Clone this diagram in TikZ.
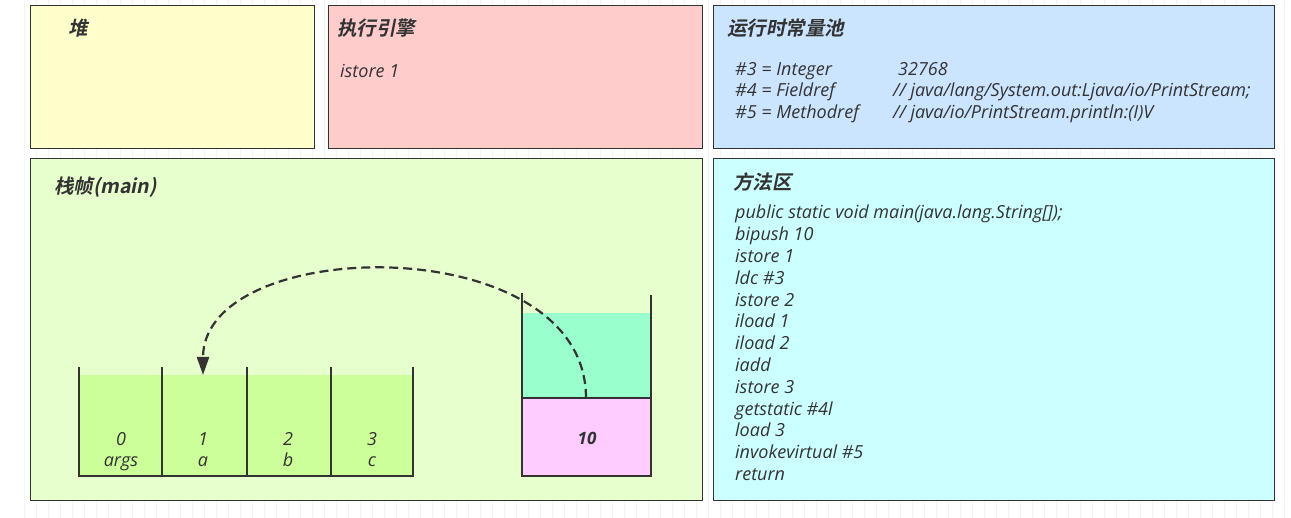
\documentclass[tikz,border=0pt]{standalone}
\usepackage{fontspec}
\setmainfont{Open Sans}
\newfontfamily\cjkbf{Noto Sans CJK SC Bold}[FakeSlant=0.2]
\usetikzlibrary{arrows.meta}
\definecolor{ink}{HTML}{333333}
\definecolor{heapcol}{HTML}{FFFFCC}
\definecolor{enginecol}{HTML}{FFCCCC}
\definecolor{poolcol}{HTML}{CCE5FF}
\definecolor{framecol}{HTML}{E6FFCC}
\definecolor{methodcol}{HTML}{CCFFFF}
\definecolor{slotcol}{HTML}{CCFF99}
\definecolor{freecol}{HTML}{99FFCC}
\definecolor{valcol}{HTML}{FFCCFF}
\begin{document}
\begin{tikzpicture}[x=1pt,y=-1pt,every node/.style={font=\fontsize{18}{21.8}\selectfont\itshape,text=ink,inner sep=0pt}]
  \tikzstyle{area}=[draw=ink,line width=1.1pt,anchor=north west]
  \tikzstyle{areatitle}=[font=\fontsize{19.5}{22}\selectfont\cjkbf,anchor=west]
  \tikzstyle{wall}=[draw=ink,line width=1.6pt]
  \useasboundingbox (0,0) rectangle (1291,518);
  \draw[gray!9,line width=0.6pt] (18,0) grid[step=12] (1291,518);
  \node[area,fill=heapcol,minimum width=284pt,minimum height=143pt] (heap) at (30,5) {};
  \node[area,fill=enginecol,minimum width=374pt,minimum height=143pt] (engine) at (328,5) {};
  \node[area,fill=poolcol,minimum width=561pt,minimum height=143pt] (pool) at (713,5) {};
  \node[area,fill=framecol,minimum width=672pt,minimum height=342pt] (frame) at (30,158) {};
  \node[area,fill=methodcol,minimum width=561pt,minimum height=342pt] (method) at (713,158) {};
  \node[areatitle] (heaptitle) at (68,28) {堆};
  \node[areatitle] (enginetitle) at (337,28) {执行引擎};
  \node[areatitle] (pooltitle) at (727,28) {运行时常量池};
  \node[areatitle] (frametitle) at (54,187) {栈帧(main)};
  \node[areatitle] (methodtitle) at (733,182) {方法区};
  \node[anchor=base west] (current) at (340,78) {istore 1};
  \node[anchor=base west] (c3) at (735,76) {\#3 = Integer};
  \node[anchor=base west] (c4) at (735,97) {\#4 = Fieldref};
  \node[anchor=base west] (c5) at (735,119) {\#5 = Methodref};
  \node[anchor=base west] (c3val) at (898,76) {32768};
  \node[anchor=base west] (c4val) at (893,97) {// java/lang/System.out:Ljava/io/PrintStream;};
  \node[anchor=base west] (c5val) at (893,119) {// java/io/PrintStream.println:(I)V};
  \node[anchor=north west,align=left] (code) at (735,205) {public static void main(java.lang.String[]);\\bipush 10\\istore 1\\ldc \#3\\istore 2\\iload 1\\iload 2\\iadd\\istore 3\\getstatic \#4l\\load 3\\invokevirtual \#5\\return};
  \fill[slotcol] (79,375) rectangle (413,476);
  \draw[wall] (79,367) -- (79,476) -- (413,476) -- (413,367);
  \foreach \x in {162,247,331}
    \draw[wall] (\x,367) -- (\x,476);
  \foreach \i/\x/\v in {0/121/args,1/203/a,2/288/b,3/372/c} {
    \node[anchor=base] (slot\i) at (\x,446) {\i};
    \node[anchor=base] (var\i) at (\x,467) {\v};
  }
  \fill[freecol] (522,313) rectangle (651,398);
  \fill[valcol] (522,398) rectangle (651,476);
  \draw[wall] (522,293) -- (522,476) -- (651,476) -- (651,295);
  \draw[wall] (522,398) -- (651,398);
  \node[font=\fontsize{17}{18}\selectfont\bfseries\itshape] (val) at (587,438) {10};
  \coordinate (stacktop) at (586,398);
  \coordinate (slotin) at (203,375);
  \draw[ink,line width=2.2pt,dash pattern=on 9pt off 5pt,-{Triangle[length=18pt,width=12pt]}] (stacktop) .. controls (586,228) and (203,234) .. (slotin);
\end{tikzpicture}
\end{document}
